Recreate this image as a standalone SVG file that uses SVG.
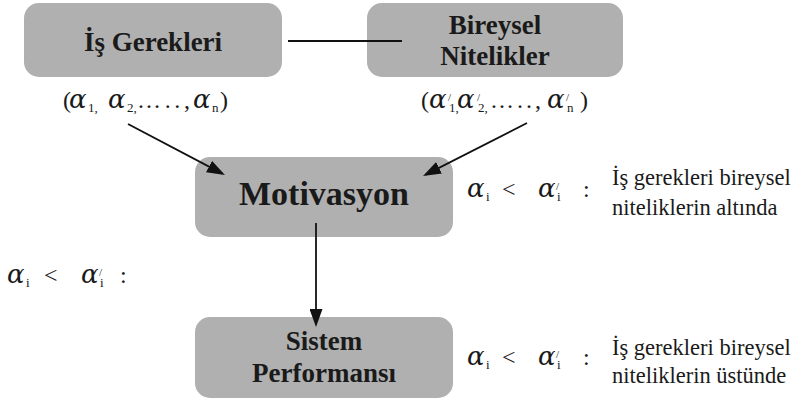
<svg xmlns="http://www.w3.org/2000/svg" width="795" height="401" viewBox="0 0 795 401">
  <style>
    .box { fill: #b0b0b0; stroke: none; }
    .title { font-family: "Liberation Serif", "Times New Roman", serif; font-weight: bold; font-size: 27px; fill: #1a1a1a; text-anchor: middle; }
    .big { font-size: 34px; }
    .txt { font-family: "Liberation Serif", "Times New Roman", serif; font-size: 22.5px; fill: #1a1a1a; }
    .f { font-family: "Liberation Serif", "Times New Roman", serif; font-size: 24px; fill: #1a1a1a; }
    .m { font-family: "DejaVu Serif", "Liberation Serif", serif; font-style: italic; font-size: 26px; }
    .s { font-size: 13px; }
    .p { font-size: 11px; }
    .line { stroke: #111; stroke-width: 1.8; fill: none; }
  </style>
  <defs>
    <marker id="arrow" viewBox="0 0 18 13" markerWidth="18" markerHeight="13" refX="15" refY="6.5" orient="auto" markerUnits="userSpaceOnUse">
      <path d="M0,0 L18,6.5 L0,13 z" fill="#111"/>
    </marker>
  </defs>

  <!-- nodes -->
  <g id="is-gerekleri">
    <rect class="box" x="24" y="3" width="258" height="74" rx="15"/>
    <text class="title" x="153" y="51">İş Gerekleri</text>
  </g>
  <g id="bireysel-nitelikler">
    <rect class="box" x="367" y="3" width="256" height="74" rx="15"/>
    <text class="title" x="495" y="34">Bireysel</text>
    <text class="title" x="495" y="65">Nitelikler</text>
  </g>
  <g id="motivasyon">
    <rect class="box" x="195" y="157" width="258" height="80" rx="15"/>
    <text class="title big" x="324" y="205">Motivasyon</text>
  </g>
  <g id="sistem-performansi">
    <rect class="box" x="195" y="317" width="258" height="81" rx="15"/>
    <text class="title" x="324" y="350">Sistem</text>
    <text class="title" x="324" y="382">Performansı</text>
  </g>

  <!-- connectors -->
  <g id="connectors">
    <line class="line" x1="288" y1="41" x2="402" y2="41"/>
    <line class="line" x1="128" y1="124" x2="222.3" y2="173.6" marker-end="url(#arrow)"/>
    <line class="line" x1="527" y1="123" x2="425.7" y2="174.6" marker-end="url(#arrow)"/>
    <line class="line" x1="316" y1="223" x2="316" y2="324" marker-end="url(#arrow)"/>
  </g>

  <!-- parameter lists -->
  <text id="alpha-list" class="f" x="63" y="108">(<tspan class="m" x="69" y="108">α</tspan><tspan class="s" x="88" y="112">1,</tspan><tspan class="m" x="108" y="108">α</tspan><tspan class="s" x="127" y="112">2,</tspan><tspan x="137" y="108" textLength="53" lengthAdjust="spacing">…..,</tspan><tspan class="m" x="193" y="108">α</tspan><tspan class="s" x="212" y="112">n</tspan><tspan x="220" y="108">)</tspan></text>

  <text id="alpha-prime-list" class="f" x="421" y="108">(<tspan class="m" x="429" y="108">α</tspan><tspan class="p" x="448" y="101">/</tspan><tspan class="s" x="449" y="112">1,</tspan><tspan class="m" x="457" y="108">α</tspan><tspan class="p" x="477" y="101">/</tspan><tspan class="s" x="478" y="112">2,</tspan><tspan x="490" y="108" textLength="51" lengthAdjust="spacing">…..,</tspan><tspan class="m" x="547" y="108">α</tspan><tspan class="p" x="566" y="101">/</tspan><tspan class="s" x="567" y="112">n</tspan><tspan x="580" y="108">)</tspan></text>

  <!-- conditions -->
  <text id="condition-left" class="f" x="7" y="283"><tspan class="m">α</tspan><tspan class="s" x="26" y="287">i</tspan><tspan x="44" y="283">&lt;</tspan><tspan class="m" x="81" y="283">α</tspan><tspan class="p" x="99" y="276">/</tspan><tspan class="s" x="100" y="287">i</tspan><tspan x="120" y="283">:</tspan></text>

  <g id="condition-upper">
    <text class="f" x="467" y="197"><tspan class="m">α</tspan><tspan class="s" x="486" y="201">i</tspan><tspan x="502" y="197">&lt;</tspan><tspan class="m" x="538" y="197">α</tspan><tspan class="p" x="556" y="190">/</tspan><tspan class="s" x="557" y="201">i</tspan><tspan x="583" y="197">:</tspan></text>
    <text class="txt" x="612" y="185">İş gerekleri bireysel</text>
    <text class="txt" x="612" y="215">niteliklerin altında</text>
  </g>
  <g id="condition-lower">
    <text class="f" x="467" y="365"><tspan class="m">α</tspan><tspan class="s" x="486" y="369">i</tspan><tspan x="502" y="365">&lt;</tspan><tspan class="m" x="538" y="365">α</tspan><tspan class="p" x="556" y="358">/</tspan><tspan class="s" x="557" y="369">i</tspan><tspan x="583" y="365">:</tspan></text>
    <text class="txt" x="612" y="355">İş gerekleri bireysel</text>
    <text class="txt" x="612" y="383">niteliklerin üstünde</text>
  </g>
</svg>
